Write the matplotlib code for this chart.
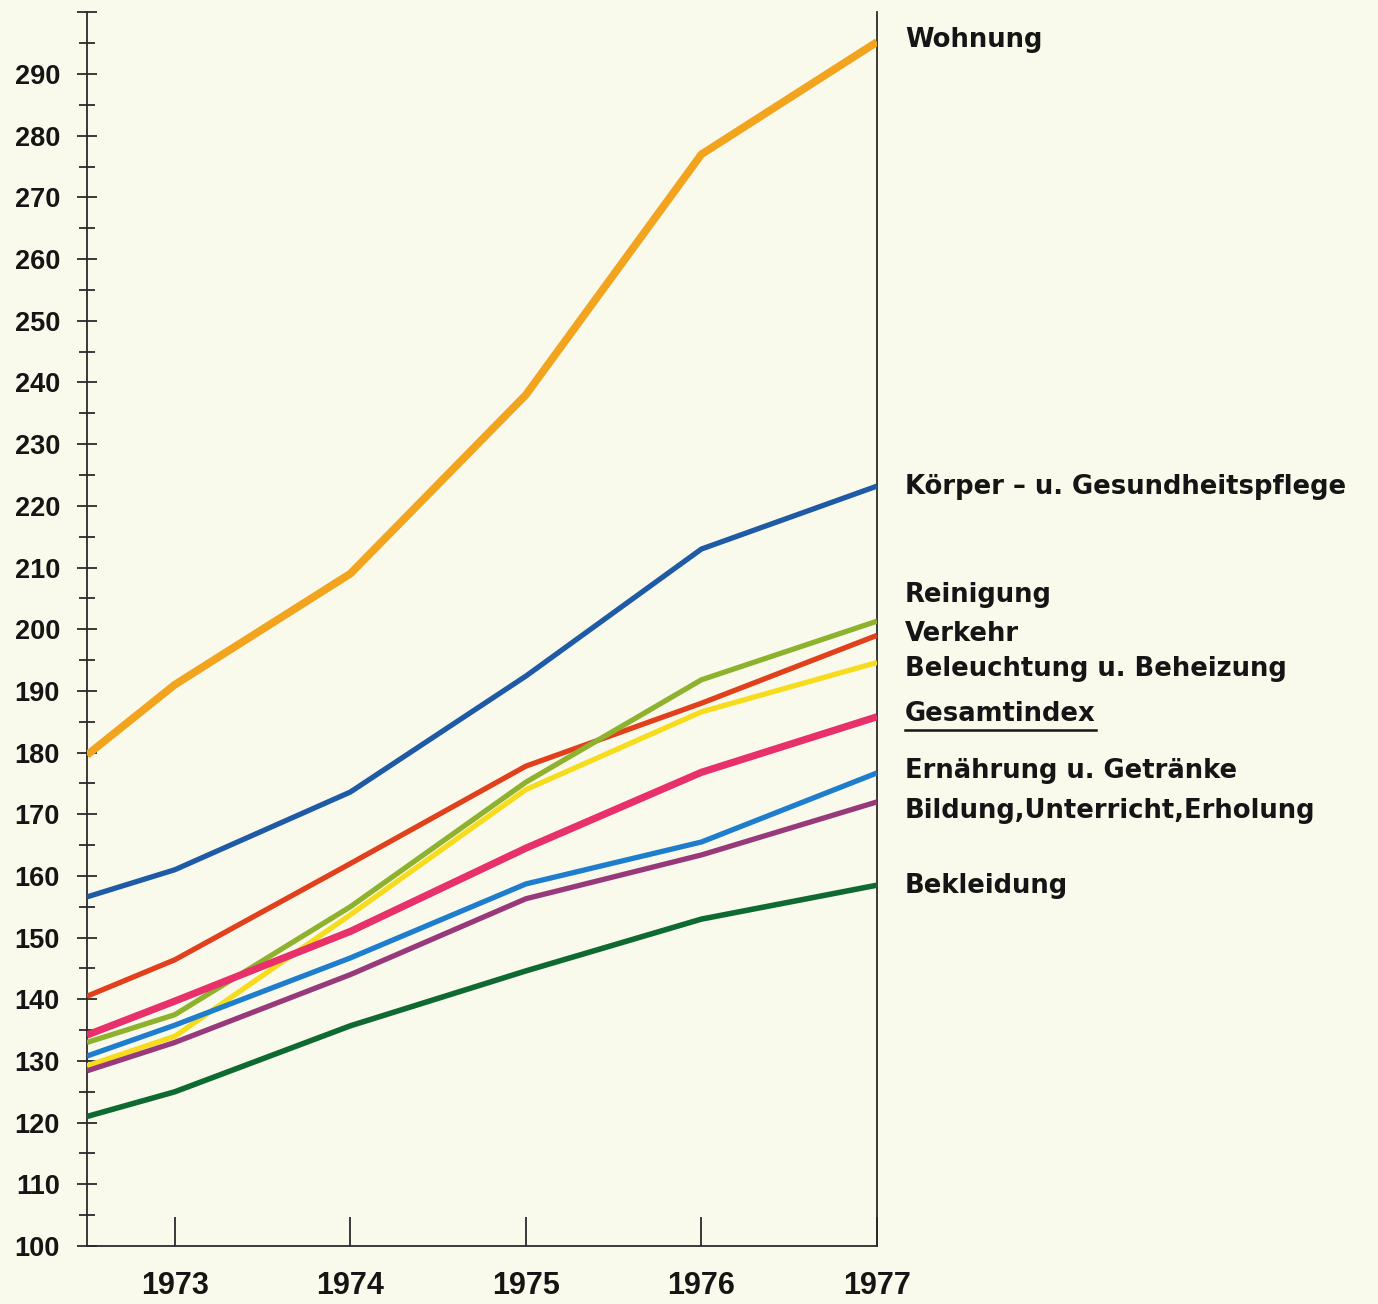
import matplotlib
matplotlib.use("Agg")
import matplotlib.pyplot as plt
from matplotlib.ticker import MultipleLocator
from matplotlib.lines import Line2D

plt.rcParams['font.family'] = ['Liberation Sans', 'DejaVu Sans']
plt.rcParams['font.weight'] = 'bold'

# ---- data ----
x_points = [1972.5, 1973, 1974, 1975, 1976, 1977]
year_ticks = [1973, 1974, 1975, 1976, 1977]

wohnung      = [179.6, 191.0, 209.0, 238.0, 277.0, 295.2]
koerper      = [156.6, 161.0, 173.6, 192.4, 213.0, 223.2]
reinigung    = [133.0, 137.5, 155.0, 175.2, 191.8, 201.3]
verkehr      = [140.5, 146.4, 162.0, 177.8, 188.0, 199.0]
beleuchtung  = [129.2, 134.0, 153.7, 174.0, 186.6, 194.6]
gesamtindex  = [134.2, 139.7, 151.0, 164.5, 176.8, 185.8]
ernaehrung   = [130.8, 135.8, 146.7, 158.7, 165.5, 176.7]
bildung      = [128.4, 133.0, 144.0, 156.3, 163.4, 172.0]
bekleidung   = [121.0, 125.0, 135.7, 144.6, 153.0, 158.5]

series_labels = ["Wohnung", "Körper – u. Gesundheitspflege", "Reinigung", "Verkehr",
                 "Beleuchtung u. Beheizung", "Gesamtindex", "Ernährung u. Getränke",
                 "Bildung,Unterricht,Erholung", "Bekleidung"]

BG = '#fafaec'
fig = plt.figure(figsize=(13.78, 13.04), dpi=100, facecolor=BG)
W, H = 1378, 1304
left_px, right_px, bottom_px, top_px = 87, 877, 1246, 12.4
ax = fig.add_axes([left_px / W, 1 - bottom_px / H, (right_px - left_px) / W, (bottom_px - top_px) / H])
ax.set_facecolor(BG)

series = [
    (wohnung, '#f2a41e', 5.6),
    (koerper, '#1f5aa6', 3.8),
    (verkehr, '#e2401c', 3.8),
    (reinigung, '#8fb22e', 3.8),
    (beleuchtung, '#f7dc1e', 3.8),
    (bildung, '#97397a', 3.8),
    (ernaehrung, '#1e7dcc', 3.8),
    (gesamtindex, '#e8306a', 5.2),
    (bekleidung, '#0f6a32', 4.0),
]
for vals, col, lw in series:
    ax.plot(x_points, vals, color=col, lw=lw, solid_capstyle='butt', solid_joinstyle='round', zorder=3)

ax.set_xlim(1972.5, 1977)
ax.set_ylim(100, 300)

ax.spines['top'].set_visible(False)
for s in ['left', 'bottom', 'right']:
    ax.spines[s].set_linewidth(1.3)
    ax.spines[s].set_color('#2a2a2a')

ax.yaxis.set_minor_locator(MultipleLocator(5))
ax.set_yticks(range(100, 301, 10))
ax.set_yticklabels([str(v) if v < 300 else '' for v in range(100, 301, 10)])
ax.tick_params(axis='y', which='major', direction='inout', length=15, width=1.3,
               color='#2a2a2a', labelsize=19.5, pad=12)
ax.tick_params(axis='y', which='minor', direction='inout', length=11, width=1.3, color='#2a2a2a')

ax.set_xticks(year_ticks)
ax.set_xticklabels([str(y) for y in year_ticks])
ax.tick_params(axis='x', which='major', direction='in', length=21, width=1.3,
               color='#2a2a2a', labelsize=22, pad=18)
ax.tick_params(axis='x', which='minor', length=0)
for lab in ax.get_xticklabels() + ax.get_yticklabels():
    lab.set_fontweight('bold')
    lab.set_color('#151515')

label_y = [40, 487, 595, 634, 669, 714, 771, 811, 886]
texts = []
for lab, ypx in zip(series_labels, label_y):
    t = fig.text(905 / W, 1 - ypx / H, lab, fontsize=18.6, fontweight='bold', color='#151515',
                 ha='left', va='center', family=['DejaVu Sans'])
    texts.append(t)

fig.canvas.draw()
r = fig.canvas.get_renderer()
bb = texts[5].get_window_extent(renderer=r)
yline = bb.y0 - 3
fig.add_artist(Line2D([bb.x0 / W, bb.x1 / W], [yline / H, yline / H], transform=fig.transFigure,
                      color='#151515', lw=1.8))

fig.savefig('out.png', dpi=100, facecolor=BG)
